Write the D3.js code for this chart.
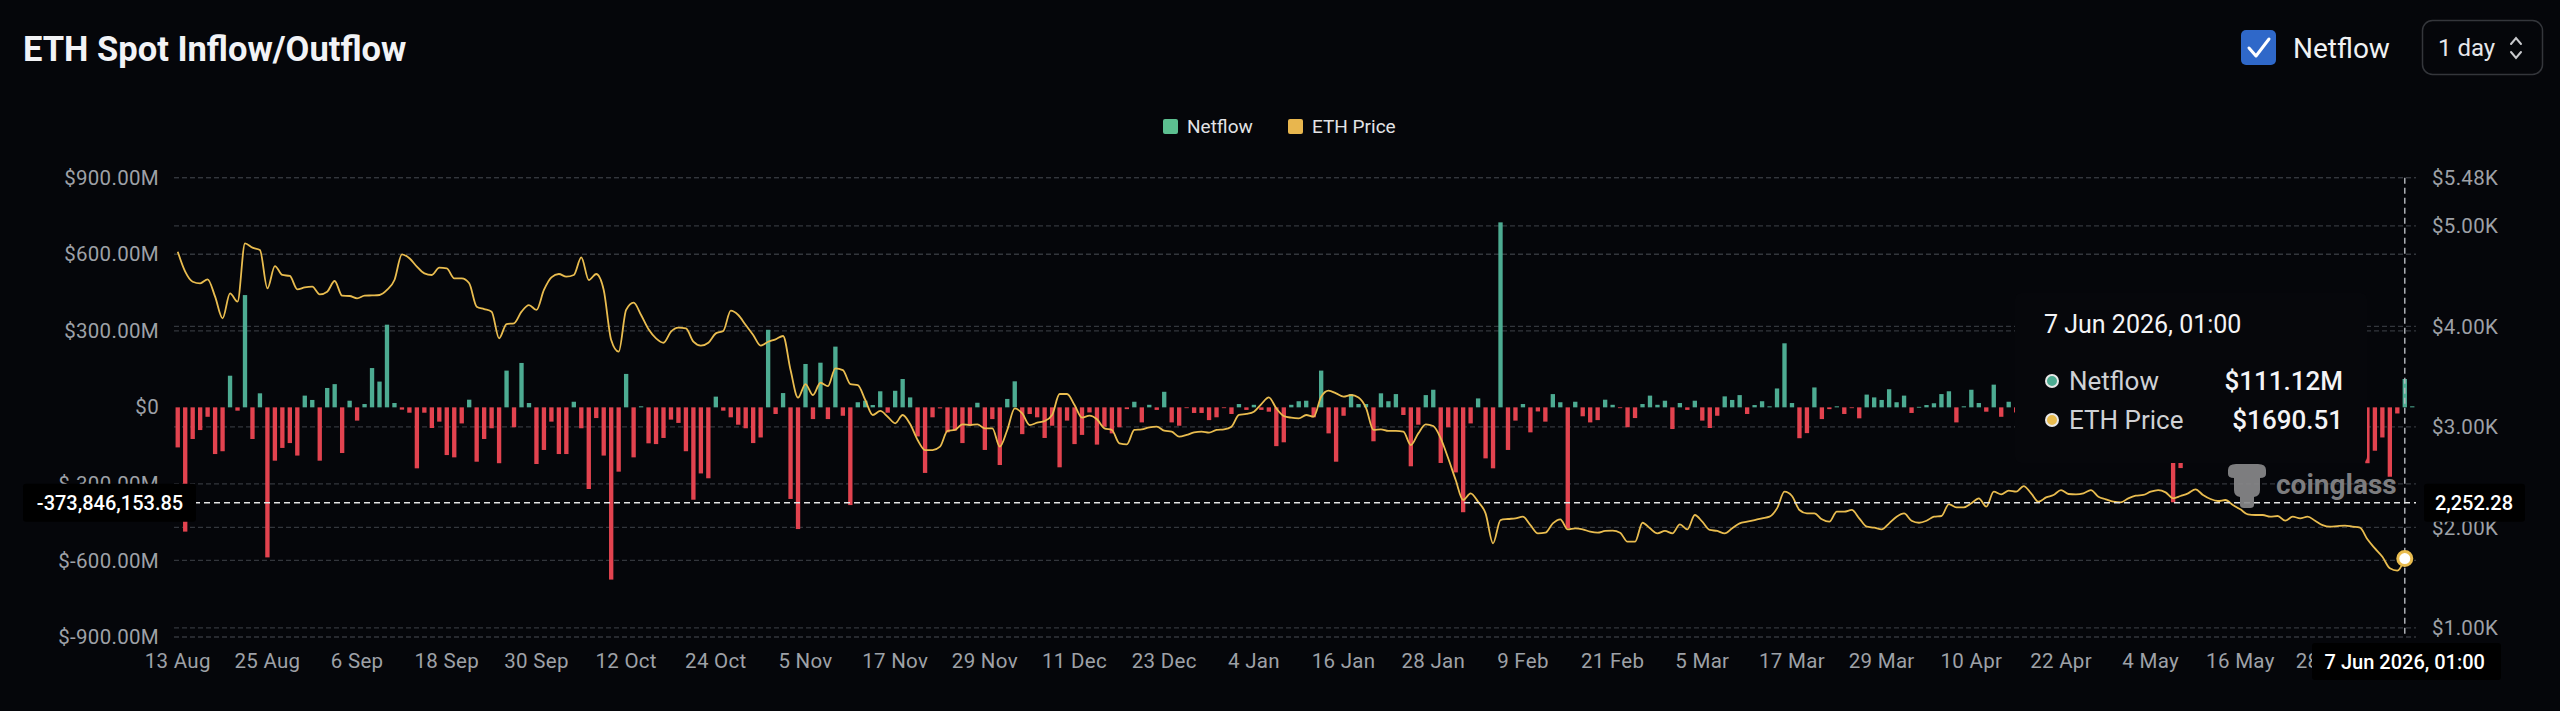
<!DOCTYPE html>
<html><head><meta charset="utf-8">
<script src="https://cdn.jsdelivr.net/npm/d3@7"></script>
<style>
html,body{margin:0;padding:0;background:#05060a;overflow:hidden;}
svg{display:block;}
</style></head>
<body>
<svg id="chart" width="2560" height="711"></svg>
<script>
// ---------------- DATA ----------------
const startDate = "2025-08-13";          // first daily category
const titleText = "ETH Spot Inflow/Outflow";
const seriesNames = ["Netflow", "ETH Price"];
// Daily netflow, millions of USD (null = hidden behind the tooltip)
const netflowM = [
-157,-487,-124,-89,-37,-183,-172,124,-13,440,
-124,55,-588,-209,-159,-140,-189,46,29,-209,
76,91,-179,26,-52,13,154,101,324,17,
-9,-21,-239,-21,-81,-56,-187,-196,-63,30,
-213,-124,-82,-219,144,-78,174,17,-222,-167,
-56,-183,-183,22,-82,-320,-42,-189,-675,-252,
131,-196,4,-141,-144,-120,-48,-61,-172,-362,
-259,-278,42,-13,-39,
-68,-82,-140,-118,304,-26,56,-359,-477,170,
-46,175,-46,238,-33,-383,20,26,9,63,
-21,65,111,39,-114,-257,-39,-4,-98,-91,
-140,-72,18,-167,-46,-226,33,102,-105,-26,
-39,-120,-72,-235,-52,-144,-108,-20,-146,-76,
-102,-78,-7,22,-59,10,-10,61,-59,-72,
-3,-22,-22,-50,-39,-2,-26,13,-10,10,
-10,-17,-152,-137,10,
24,26,-39,144,-102,-213,-33,52,13,13,
-133,55,24,52,-30,-231,-68,48,69,-218,
-78,-255,-411,-63,35,-200,-239,725,-167,-52,
13,-98,-16,-56,52,20,-474,22,-35,-59,
-50,30,10,-3,-78,-42,13,46,10,26,
-85,17,-10,26,-52,-81,-33,43,29,48,
-26,9,24,4,74,251,17,-121,-101,78,
-46,-7,4,-26,-3,
-43,50,39,29,71,20,46,-22,2,9,
16,52,63,-59,4,69,17,-17,89,-37,
22,-20,
null,null,null,null,null,null,null,null,null,null,
null,null,null,null,null,null,null,null,null,null,
-372,-238,
null,null,null,null,null,null,null,null,null,null,
null,null,null,null,null,null,null,null,null,null,
null,null,null,null,
-219,-170,-118,-272,-24,111.12,4
];
// Daily ETH price, USD
const ethPrice = [
4744,4545,4445,4429,4469,4296,4081,4329,4246,4827,
4784,4760,4379,4601,4512,4502,4369,4389,4396,4319,
4346,4452,4306,4303,4280,4306,4309,4313,4363,4462,
4717,4678,4595,4528,4512,4585,4578,4479,4479,4429,
4197,4173,4147,3882,4024,4031,4147,4213,4164,4363,
4489,4522,4495,4512,4688,4462,4522,4363,3865,3749,
4164,4237,4114,3971,3882,3838,3948,3988,3981,3848,
3809,3838,3931,3955,4157,
4114,4014,3915,3809,3848,3872,3905,3566,3291,3427,
3318,3440,3407,3583,3566,3427,3417,3268,3119,3159,
3102,3036,3119,3029,2870,2770,2770,2804,2960,2970,
3026,3019,3026,2986,2986,2804,2970,3185,3135,3019,
3042,3059,3119,3328,3328,3218,3092,3112,3076,2986,
2970,2837,2827,2970,2976,2996,3003,2963,2953,2903,
2920,2946,2953,2943,2970,2976,3003,3119,3129,3152,
3228,3294,3185,3109,3092,
3086,3119,3102,3301,3361,3334,3301,3318,3294,3190,
2970,2976,2960,2960,2953,2820,2936,3026,3009,2887,
2688,2472,2273,2339,2256,2140,1842,2074,2084,2091,
2107,2024,1941,1948,2041,2081,1981,1991,1981,1958,
1948,1965,1968,1948,1858,1858,2047,1991,1941,1965,
1941,2031,1981,2124,2057,1975,1965,1941,1991,2041,
2057,2074,2091,2107,2190,2356,2313,2174,2140,2140,
2081,2057,2157,2157,2174,
2091,2008,1998,1981,2041,2107,2140,2067,2047,2067,
2107,2114,2233,2200,2200,2240,2290,2207,2356,2329,
2366,2356,2412,2339,2256,2299,2323,2372,2333,2329,
2339,2372,2306,2280,2256,2250,2290,2316,2323,2356,
2372,2349,2290,2313,2339,2379,2323,2283,2263,2273,
2223,2180,2130,2124,2124,2107,2114,2067,2107,2091,
2107,2067,2024,2008,2014,2018,2008,1998,1882,1792,
1709,1593,1570,1690.51,null
];
const leftTicks = [-900, -600, -300, 0, 300, 600, 900];          // $M
const rightTicks = [1000, 2000, 3000, 4000, 5000, 5480];         // $
const xTickEvery = 12;
const hoverIndex = 298;
const crosshairNetflowM = -373.84615385;
const crosshairLeftLabel = "-373,846,153.85";
const crosshairRightLabel = "2,252.28";
const hoverLabel = "7 Jun 2026, 01:00";
const intervalLabel = "1 day";

// ---------------- STYLE ----------------
const C = {
  bg: "#05060a", grid: "#33363c", axisText: "#9ea1a7",
  green: "#4dab92", red: "#e2434f", line: "#e9bc4f",
  legendGreen: "#5cbf90", legendYellow: "#e8b64e"
};
const FONT = "Roboto, 'Noto Sans', sans-serif";

const svg = d3.select("#chart");
const plotL = 174, plotR = 2416, plotT = 177.7, plotB = 637;

const parse = d3.timeParse("%Y-%m-%d");
const d0 = parse(startDate);
const dates = netflowM.map((_, i) => d3.timeDay.offset(d0, i));
const fmtTick = d3.timeFormat("%-d %b");

const x = d3.scaleBand().domain(d3.range(netflowM.length))
  .range([plotL, plotR]).paddingInner(0.42).paddingOuter(0.21);
const cx = i => x(i) + x.bandwidth() / 2;
const yL = d3.scaleLinear().domain([-900, 900]).range([plotB, plotT]);
const yR = d3.scaleLinear().domain([910, 5480]).range([plotB, plotT]);

svg.append("rect").attr("width", 2560).attr("height", 711).attr("fill", C.bg);

// grid
const grid = svg.append("g").attr("stroke", C.grid).attr("stroke-width", 1.3)
  .attr("stroke-dasharray", "5,3");
grid.selectAll("line.l").data(leftTicks.filter(d => d !== 0)).join("line").attr("class", "l")
  .attr("x1", plotL).attr("x2", plotR).attr("y1", d => yL(d)).attr("y2", d => yL(d));
grid.selectAll("line.r").data(rightTicks).join("line").attr("class", "r")
  .attr("x1", plotL).attr("x2", plotR).attr("y1", d => yR(d)).attr("y2", d => yR(d));

// bars
const barData = netflowM.map((v, i) => ({ v, i })).filter(d => d.v != null);
svg.append("g").selectAll("rect").data(barData).join("rect")
  .attr("x", d => x(d.i)).attr("width", x.bandwidth())
  .attr("y", d => yL(Math.max(0, d.v)))
  .attr("height", d => Math.max(0.8, Math.abs(yL(d.v) - yL(0))))
  .attr("fill", d => d.v >= 0 ? C.green : C.red);

// price line
const priceData = ethPrice.map((p, i) => ({ p, i }));
svg.append("path").datum(priceData)
  .attr("fill", "none").attr("stroke", C.line).attr("stroke-width", 1.8)
  .attr("d", d3.line().defined(d => d.p != null).x(d => cx(d.i)).y(d => yR(d.p)).curve(d3.curveMonotoneX));

// crosshair
const hx = cx(hoverIndex);
const hy = yL(crosshairNetflowM);
svg.append("line").attr("x1", hx).attr("x2", hx).attr("y1", plotT).attr("y2", plotB)
  .attr("stroke", "#b9bcc2").attr("stroke-width", 1.4).attr("stroke-dasharray", "6,4");
svg.append("line").attr("x1", plotL).attr("x2", plotR).attr("y1", hy).attr("y2", hy)
  .attr("stroke", "#e6e6e6").attr("stroke-width", 1.5).attr("stroke-dasharray", "6,4");

// axes
function styleAxis(g) {
  g.select(".domain").remove();
  g.selectAll("text").attr("fill", C.axisText).attr("font-size", 20.5)
    .attr("letter-spacing", 0.3).attr("font-family", FONT);
}
svg.append("g").attr("transform", "translate(159,0)")
  .call(d3.axisLeft(yL).tickValues(leftTicks)
    .tickFormat(d => d === 0 ? "$0" : "$" + d.toFixed(2) + "M").tickSize(0).tickPadding(0))
  .call(styleAxis);
svg.append("g").attr("transform", "translate(2432,0)")
  .call(d3.axisRight(yR).tickValues(rightTicks)
    .tickFormat(d => "$" + (d / 1000).toFixed(2) + "K").tickSize(0).tickPadding(0))
  .call(styleAxis);
svg.append("g").attr("transform", "translate(0,645)")
  .call(d3.axisBottom(x).tickValues(d3.range(0, netflowM.length, xTickEvery))
    .tickFormat(i => fmtTick(dates[i])).tickSize(0).tickPadding(8))
  .call(styleAxis);

// tooltip box (opaque, nearly background colour)
const tip = svg.append("g");
tip.append("rect").attr("x", 2015).attr("y", 293).attr("width", 352).attr("height", 170)
  .attr("rx", 6).attr("fill", "#06070b");
tip.append("text").attr("x", 2044).attr("y", 333).text(hoverLabel)
  .attr("fill", "#f4f4f6").attr("font-size", 25).attr("font-family", FONT);
const tipRows = [
  { name: seriesNames[0], val: "$" + netflowM[hoverIndex].toFixed(2) + "M", col: C.green },
  { name: seriesNames[1], val: "$" + ethPrice[hoverIndex].toFixed(2), col: C.line }
];
tipRows.forEach((r, k) => {
  const yy = 381 + k * 39;
  tip.append("circle").attr("cx", 2052).attr("cy", yy).attr("r", 6)
    .attr("fill", r.col).attr("stroke", "#e8e8e8").attr("stroke-width", 2);
  tip.append("text").attr("x", 2069).attr("y", yy + 9).text(r.name)
    .attr("fill", "#cfd1d5").attr("font-size", 26).attr("font-family", FONT);
  tip.append("text").attr("x", 2343).attr("y", yy + 9).text(r.val).attr("text-anchor", "end")
    .attr("fill", "#f4f4f6").attr("font-size", 26).attr("font-weight", 500).attr("font-family", FONT);
});

// watermark
const wm = svg.append("g").attr("fill", "#8a8a8c").attr("opacity", 0.9);
wm.append("path").attr("d",
  "M2228,470 Q2228,464 2236,464 L2258,464 Q2266,464 2266,470 L2266,474 Q2266,478 2260,478 L2260,490 Q2260,496 2254,497 L2254,505 Q2254,508 2250,508 L2244,508 Q2240,508 2240,505 L2240,497 Q2234,496 2234,490 L2234,478 Q2228,478 2228,474 Z");
wm.append("text").attr("x", 2276).attr("y", 494).text("coinglass")
  .attr("font-size", 28).attr("font-weight", 700).attr("font-family", FONT);

// hover dot
svg.append("circle").attr("cx", hx).attr("cy", yR(ethPrice[hoverIndex])).attr("r", 7)
  .attr("fill", "#ffffff").attr("stroke", C.line).attr("stroke-width", 3);

// crosshair labels
function labelBox(x0, y0, w, h, txt, tx, anchor) {
  svg.append("rect").attr("x", x0).attr("y", y0).attr("width", w).attr("height", h)
    .attr("rx", 3).attr("fill", "#000000");
  svg.append("text").attr("x", tx).attr("y", y0 + h / 2 + 7).text(txt)
    .attr("text-anchor", anchor).attr("fill", "#ffffff").attr("font-size", 20)
    .attr("font-weight", 500).attr("font-family", FONT);
}
labelBox(23, hy - 19, 173, 38, crosshairLeftLabel, 110, "middle");
labelBox(2424, hy - 19, 101, 38, crosshairRightLabel, 2474, "middle");
labelBox(2312, 643, 189, 37, hoverLabel, hx, "middle");

// title
svg.append("text").attr("x", 23).attr("y", 61).text(titleText)
  .attr("fill", "#f2f3f6").attr("font-size", 34.5).attr("font-weight", 700)
  .attr("letter-spacing", 0).attr("font-family", FONT);

// legend
const legCols = [C.legendGreen, C.legendYellow];
const legX = [1163, 1288];
seriesNames.forEach((n, k) => {
  svg.append("rect").attr("x", legX[k]).attr("y", 119).attr("width", 15).attr("height", 15)
    .attr("rx", 2).attr("fill", legCols[k]);
  svg.append("text").attr("x", legX[k] + 24).attr("y", 133).text(n)
    .attr("fill", "#e2e3e6").attr("font-size", 19).attr("font-family", FONT);
});

// checkbox + Netflow
svg.append("rect").attr("x", 2241).attr("y", 30).attr("width", 35).attr("height", 35)
  .attr("rx", 5).attr("fill", "#2f68c9");
svg.append("path").attr("d", "M2249,48 L2256,56 L2269,39").attr("fill", "none")
  .attr("stroke", "#ffffff").attr("stroke-width", 3).attr("stroke-linecap", "round").attr("stroke-linejoin", "round");
svg.append("text").attr("x", 2293).attr("y", 58).text(seriesNames[0])
  .attr("fill", "#f0f1f3").attr("font-size", 28).attr("font-family", FONT);

// interval selector
svg.append("rect").attr("x", 2422.5).attr("y", 20.5).attr("width", 120).attr("height", 54)
  .attr("rx", 10).attr("fill", "none").attr("stroke", "#34363b").attr("stroke-width", 1.5);
svg.append("text").attr("x", 2438).attr("y", 56).text(intervalLabel)
  .attr("fill", "#e6e7ea").attr("font-size", 24).attr("font-family", FONT);
svg.append("path").attr("d", "M2511,44 L2516,38 L2521,44 M2511,52 L2516,58 L2521,52")
  .attr("fill", "none").attr("stroke", "#c8c9cc").attr("stroke-width", 2).attr("stroke-linecap", "round");
</script>
</body></html>
